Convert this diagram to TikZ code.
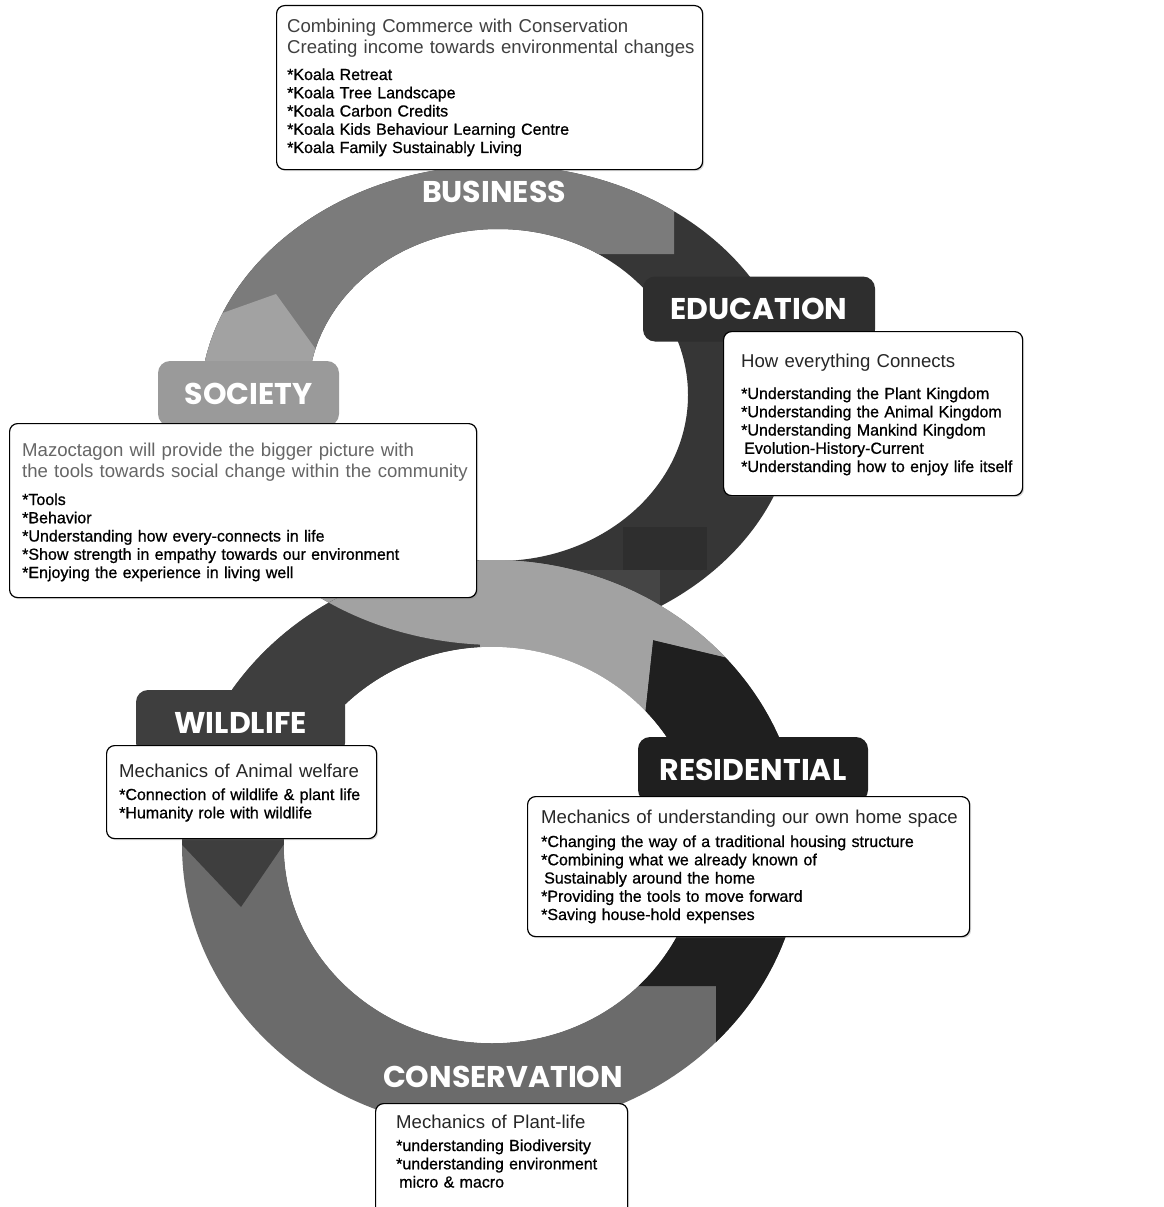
\documentclass[tikz,border=0pt]{standalone}
\usepackage{fontspec}
\setmainfont{Liberation Sans}
\newfontfamily\tabfont{Poppins}
\newfontfamily\listfont{Liberation Sans}[FakeBold=0.8]
\usetikzlibrary{shadows}
\definecolor{biz}{HTML}{7B7B7B}
\definecolor{soc}{HTML}{A2A2A2}
\definecolor{edu}{HTML}{363636}
\definecolor{edudeep}{HTML}{2E2E2E}
\definecolor{mid}{HTML}{454545}
\definecolor{wild}{HTML}{3E3E3E}
\definecolor{cons}{HTML}{6B6B6B}
\definecolor{res}{HTML}{1F1F1F}

\begin{document}
\begin{tikzpicture}[x=1pt, y=-1pt,
  tablabel/.style={rounded corners=12pt, minimum height=65pt, inner sep=0pt,
                   text=white, font=\tabfont\bfseries\fontsize{30}{30}\selectfont},
  ringlabel/.style={inner sep=0pt, text=white,
                    font=\tabfont\bfseries\fontsize{30}{30}\selectfont},
  box/.style={draw=black, line width=1.2pt, fill=white, rounded corners=8pt,
              anchor=north west, inner sep=0pt,
              drop shadow={shadow xshift=1.5pt, shadow yshift=-1.5pt, opacity=0.3}},
  head/.style={anchor=base west, inner sep=0pt, text width=460pt, align=left,
               text=black!85, font=\fontsize{18.6}{21}\selectfont},
  list/.style={anchor=base west, inner sep=0pt, text width=460pt, align=left,
               font=\listfont\fontsize{16}{18.25}\selectfont}
]
  \useasboundingbox (0,0) rectangle (1164,1207);
  \fill[white] (0,0) rectangle (1164,1207);

  % upper loop
  \begin{scope}[even odd rule]
    \clip (498,405) ellipse [x radius=298, y radius=240]
          (498,395) ellipse [x radius=190, y radius=166];
    \fill[edu] (0,0) rectangle (1164,720);
    \fill[biz] (674,254) -- (674,100) -- (100,100) -- (100,500) -- (420,500) -- (420,254) -- cycle;
    \fill[soc] (276,294) -- (348,394) -- (476,500) -- (476,720) -- (100,720) -- (100,357) -- (158,336) -- cycle;
    \fill[mid] (476,570) -- (660,570) -- (660,720) -- (476,720) -- cycle;
    \fill[edudeep] (623,527) -- (707,527) -- (707,570) -- (623,570) -- cycle;
  \end{scope}

  % lower loop
  \begin{scope}[even odd rule]
    \clip (492,845) ellipse [x radius=310, y radius=285]
          (492,845) ellipse [x radius=208, y radius=198];
    \fill[cons] (0,500) rectangle (1164,1207);
    \fill[res] (653,640) -- (900,699) -- (900,1207) -- (716,1207) -- (716,986) -- (600,986) -- (600,760) -- (640,760) -- cycle;
    \fill[wild] (241,907) -- (133,793) -- (133,540) -- (480,540) -- (480,793) -- (319,793) -- cycle;
    \fill[soc] (480,540) -- (900,540) -- (900,699) -- (653,640) -- (640,760) -- (480,760) -- cycle;
    \fill[soc] (498,405) ellipse [x radius=298, y radius=240];
  \end{scope}
  \fill[white] (492,845) ellipse [x radius=208, y radius=198];

  % tabs and ring labels
  \node[ringlabel] (bizlabel) at (494,192) {BUSINESS};
  \node[ringlabel] (conslabel) at (503,1077) {CONSERVATION};
  \node[tablabel, fill=soc!95!black, minimum width=181pt] (soctab) at (248.5,393.5) {SOCIETY};
  \node[tablabel, fill=edu!85!black, minimum width=232pt] (edutab) at (759,309) {EDUCATION};
  \node[tablabel, fill=wild, minimum width=209pt] (wildtab) at (240.5,722.5) {WILDLIFE};
  \node[tablabel, fill=res, minimum width=230pt] (restab) at (753,769.5) {RESIDENTIAL};

  % Business
  \node[box, minimum width=426pt, minimum height=164pt] (bizbox) at (276,5) {};
  \node[head, text=black!75] (bizhead) at (287,33)
    {Combining Commerce with Conservation\\Creating income towards environmental changes};
  \node[list] (bizlist) at (287,80)
    {*Koala Retreat\\{}*Koala Tree Landscape\\{}*Koala Carbon Credits\\{}*Koala Kids Behaviour Learning Centre\\{}*Koala Family Sustainably Living};

  % Society
  \node[box, minimum width=467pt, minimum height=174pt] (socbox) at (9,423) {};
  \node[head, text=black!60] (sochead) at (22,456)
    {Mazoctagon will provide the bigger picture with\\the tools towards social change within the community};
  \node[list] (soclist) at (22,505)
    {*Tools\\{}*Behavior\\{}*Understanding how every-connects in life\\{}*Show strength in empathy towards our environment\\{}*Enjoying the experience in living well};

  % Education
  \node[box, minimum width=299pt, minimum height=164pt] (edubox) at (723,331) {};
  \node[head] (eduhead) at (741,367) {How everything Connects};
  \node[list] (edulist) at (741,399)
    {*Understanding the Plant Kingdom\\{}*Understanding the Animal Kingdom\\{}*Understanding Mankind Kingdom\\\hspace*{3pt}Evolution-History-Current\\{}*Understanding how to enjoy life itself};

  % Wildlife
  \node[box, minimum width=270pt, minimum height=93pt] (wildbox) at (106,745) {};
  \node[head] (wildhead) at (119,777) {Mechanics of Animal welfare};
  \node[list] (wildlist) at (119,800)
    {*Connection of wildlife \& plant life\\{}*Humanity role with wildlife};

  % Residential
  \node[box, minimum width=442pt, minimum height=140pt] (resbox) at (527,796) {};
  \node[head] (reshead) at (541,823) {Mechanics of understanding our own home space};
  \node[list] (reslist) at (541,847)
    {*Changing the way of a traditional housing structure\\{}*Combining what we already known of\\\hspace*{3pt}Sustainably around the home\\{}*Providing the tools to move forward\\{}*Saving house-hold expenses};

  % Conservation
  \node[box, minimum width=252pt, minimum height=130pt] (consbox) at (375,1103) {};
  \node[head] (conshead) at (396,1128) {Mechanics of Plant-life};
  \node[list] (conslist) at (396,1151)
    {*understanding Biodiversity\\{}*understanding environment\\\hspace*{3pt}micro \& macro};
\end{tikzpicture}
\end{document}
